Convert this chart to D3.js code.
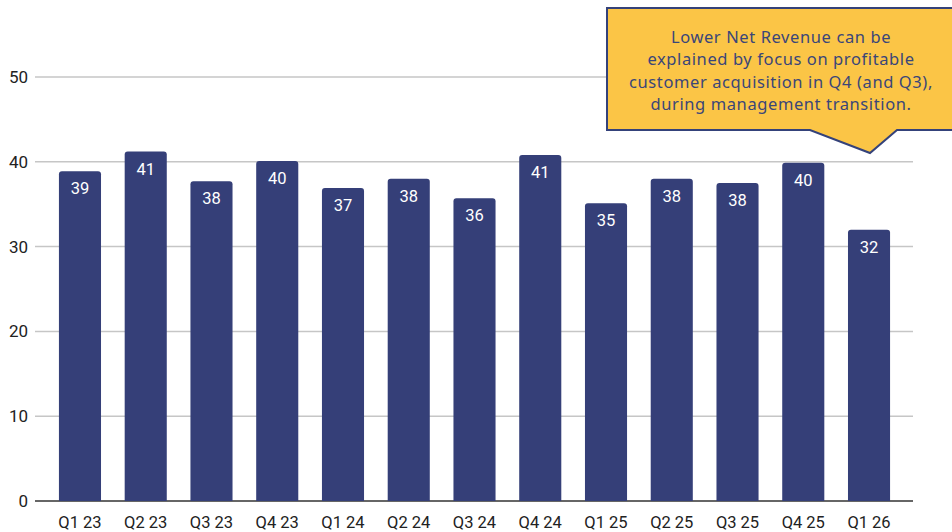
<!DOCTYPE html>
<html><head><meta charset="utf-8">
<script src="https://cdn.jsdelivr.net/npm/d3@7"></script>
<style>body{margin:0;background:#fff}svg{display:block}</style>
</head><body>
<svg id="c" width="952" height="532"></svg>
<script>
const categories = ["Q1 23","Q2 23","Q3 23","Q4 23","Q1 24","Q2 24","Q3 24","Q4 24","Q1 25","Q2 25","Q3 25","Q4 25","Q1 26"];
const values = [38.9,41.2,37.7,40.1,36.9,38.0,35.7,40.8,35.1,38.0,37.5,39.9,32.0];
const yTicks = [0,10,20,30,40,50];
const calloutLines = ["Lower Net Revenue can be","explained by focus on profitable","customer acquisition in Q4 (and Q3),","during management transition."];

const svg = d3.select("#c");
const y = d3.scaleLinear().domain([0,50]).range([501,77]);
const x = d3.scaleBand().domain(categories).range([47.1,901.9]).paddingInner(0.36).paddingOuter(0.18);

// grid
svg.append("g").selectAll("line").data(yTicks).join("line")
  .attr("x1",35).attr("x2",913).attr("y1",d=>y(d)).attr("y2",d=>y(d))
  .attr("stroke",d=>d===0?"#333":"#c6c6c6").attr("stroke-width",1.5);
svg.append("g").selectAll("text").data(yTicks).join("text")
  .attr("x",28).attr("y",d=>y(d)).attr("dy","0.35em").attr("text-anchor","end")
  .attr("font-family","Roboto").attr("font-size",17).attr("fill","#222").text(d=>d);

// bars
const r = 3;
svg.append("g").selectAll("path").data(values).join("path")
  .attr("fill","#353f78")
  .attr("d",(d,i)=>{
    const x0 = x(categories[i]), w = x.bandwidth(), t = y(d), b = y(0);
    return `M${x0},${b}V${t+r}Q${x0},${t} ${x0+r},${t}H${x0+w-r}Q${x0+w},${t} ${x0+w},${t+r}V${b}Z`;
  });
svg.append("g").selectAll("text").data(values).join("text")
  .attr("x",(d,i)=>x(categories[i])+x.bandwidth()/2).attr("y",d=>y(d)+23)
  .attr("text-anchor","middle").attr("font-family","Roboto").attr("font-size",16.5)
  .attr("fill","#fff").text(d=>Math.round(d));

// x labels
svg.append("g").selectAll("text").data(categories).join("text")
  .attr("x",d=>x(d)+x.bandwidth()/2).attr("y",528)
  .attr("text-anchor","middle").attr("font-family","Roboto").attr("font-size",16.5)
  .attr("fill","#222").text(d=>d);

// callout
svg.append("path")
  .attr("d","M607,8H960V130H897L870,153L810,130H607Z")
  .attr("fill","#fbc546").attr("stroke","#34427a").attr("stroke-width",2).attr("stroke-linejoin","miter");
svg.append("g").selectAll("text").data(calloutLines).join("text")
  .attr("x",781).attr("y",(d,i)=>43+i*22.3).attr("text-anchor","middle")
  .attr("font-family","'Noto Sans'").attr("font-size",16.5).attr("letter-spacing",0.6)
  .attr("fill","#3a4679").text(d=>d);
</script>
</body></html>
